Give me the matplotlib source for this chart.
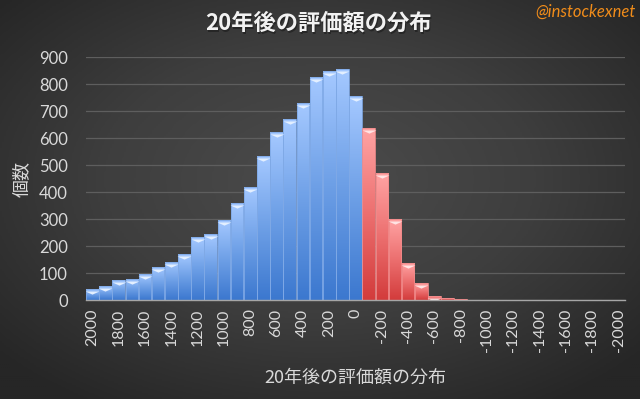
import numpy as np
import matplotlib
matplotlib.use("Agg")
import matplotlib.pyplot as plt
import matplotlib.transforms as mtransforms
from matplotlib.path import Path
from matplotlib.colors import LinearSegmentedColormap

# categories: value after 20 years (2000 down to -2000, step 100)
categories = list(range(2000, -2001, -100))
counts = [40, 51, 74, 78, 95, 121, 141, 169, 232, 243, 295, 358, 419, 533,
          622, 670, 729, 826, 848, 855, 755,
          637, 470, 299, 136, 62, 14, 7, 4, 2,
          0, 0, 0, 0, 0, 0, 0, 0, 0, 0, 0]
tick_labels = [str(c) if i % 2 == 0 else "" for i, c in enumerate(categories)]

title = "20年後の評価額の分布"
xlabel = "20年後の評価額の分布"
ylabel = "個数"
credit = "@instockexnet"

jp = ["Noto Sans CJK JP", "DejaVu Sans"]
num_font = ["Lato", "DejaVu Sans"]

fig = plt.figure(figsize=(6.4, 3.99), dpi=100)

# radial dark background
bg = fig.add_axes([0, 0, 1, 1], zorder=-10)
yy, xx = np.mgrid[0:1:200j, 0:1:320j]
r = np.sqrt(((xx - 0.5) / 0.75) ** 2 + ((yy - 0.45) / 0.75) ** 2)
bg_cmap = LinearSegmentedColormap.from_list("bg", ["#4c4c4c", "#3e3e3e", "#262626"])
bg.imshow(r, cmap=bg_cmap, extent=[0, 1, 0, 1], aspect="auto", vmin=0, vmax=0.9)
bg.axis("off")

ax = fig.add_axes([0.134, 0.248, 0.843, 0.609])
ax.patch.set_alpha(0)

x = np.arange(len(categories))
blue_cmap = LinearSegmentedColormap.from_list("b", ["#3c78cf", "#6d9fe6", "#a4c8ff"])
red_cmap = LinearSegmentedColormap.from_list("r", ["#d33c3c", "#ec6f6f", "#ffa3a3"])
grad = np.linspace(0, 1, 100).reshape(-1, 1)

bars = ax.bar(x, counts, width=0.96, color="none", zorder=3)
for xi, cat, v, b in zip(x, categories, counts, bars):
    if v <= 0:
        continue
    cmap = blue_cmap if cat >= 0 else red_cmap
    edge = "#7fa9e6" if cat >= 0 else "#f08a8a"
    im = ax.imshow(grad, cmap=cmap, origin="lower", aspect="auto",
                   extent=[xi - 0.48, xi + 0.48, 0, v], zorder=2)
    im.set_clip_path(b)
    b.set_edgecolor(edge)
    b.set_linewidth(0.6)

# bevel triangles at top of each bar
tri = Path([(-1, 0), (1, 0), (0, -0.45), (-1, 0)],
           [Path.MOVETO, Path.LINETO, Path.LINETO, Path.CLOSEPOLY])
off = mtransforms.offset_copy(ax.transData, fig=fig, y=-1.2, units="points")
for xi, cat, v in zip(x, categories, counts):
    if v < 10:
        continue
    col = "#e3efff" if cat >= 0 else "#ffe3e3"
    ax.plot(xi, v, marker=tri, markersize=10, color=col, markeredgewidth=0,
            transform=off, zorder=4)

ax.set_xlim(-0.5, len(categories) - 0.5)
ax.set_ylim(0, 900)
ax.set_yticks(range(0, 901, 100))
ax.set_xticks(x)
ax.set_xticklabels(tick_labels, rotation=90, family=num_font, fontsize=11.5,
                   color="#d9d9d9")
for lab in ax.get_yticklabels():
    lab.set_family(num_font)
ax.tick_params(axis="y", labelsize=12, labelcolor="#d9d9d9", length=0, pad=13)
ax.tick_params(axis="x", length=0, pad=6)
ax.grid(axis="y", color="#5e5e5e", linewidth=0.9, zorder=0)
ax.set_axisbelow(True)
for s in ["top", "right", "left"]:
    ax.spines[s].set_visible(False)
ax.spines["bottom"].set_color("#a6a6a6")
ax.spines["bottom"].set_linewidth(1.0)
ax.spines["bottom"].set_zorder(5)

ax.set_ylabel(ylabel, family=jp, fontsize=13, color="#d9d9d9", labelpad=6)
ax.set_xlabel(xlabel, family=jp, fontsize=13, color="#d9d9d9", labelpad=12)

fig.text(0.497, 0.942, title, family=jp, fontsize=16, fontweight="bold",
         color="#1a1a1a", ha="center", va="center", alpha=0.6,
         transform=fig.transFigure + mtransforms.Affine2D().translate(1.5, -1.5))
fig.text(0.497, 0.942, title, family=jp, fontsize=16, fontweight="bold",
         color="#f2f2f2", ha="center", va="center")
fig.text(0.993, 0.97, credit, family=["Lato", "DejaVu Sans"], style="italic",
         fontsize=12, color="#f08c1a", ha="right", va="center")

fig.savefig("out.png", dpi=100, facecolor="#333333")
